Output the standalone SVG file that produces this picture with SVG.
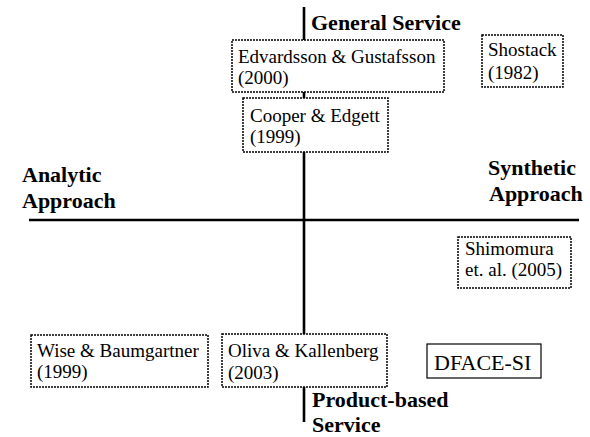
<svg xmlns="http://www.w3.org/2000/svg" width="590" height="437" viewBox="0 0 590 437">
<style>
.bg{fill:#fff}
.axis{stroke:#000;stroke-width:2.6;fill:none}
.box{fill:#fff;stroke:#000;stroke-width:1.5;stroke-dasharray:2 1}
.sbox{fill:#fff;stroke:#000;stroke-width:1.2}
.lbl{font-family:"Liberation Serif","Times New Roman",serif;font-weight:bold;font-size:22px;fill:#000}
.t{font-family:"Liberation Serif","Times New Roman",serif;font-size:19px;fill:#000}
.big{font-family:"Liberation Serif","Times New Roman",serif;font-size:22px;fill:#000}
</style>
<rect class="bg" x="0" y="0" width="590" height="437"/>
<g id="connectors">
<line class="axis" x1="304" y1="7" x2="304" y2="422"/>
<line class="axis" x1="29" y1="220" x2="579" y2="220"/>
</g>
<g id="axis-labels">
<text class="lbl" x="311" y="30">General Service</text>
<text class="lbl" x="22" y="182">Analytic</text>
<text class="lbl" x="22" y="208">Approach</text>
<text class="lbl" x="488" y="175">Synthetic</text>
<text class="lbl" x="489" y="201">Approach</text>
<text class="lbl" x="312" y="407">Product-based</text>
<text class="lbl" x="312" y="432">Service</text>
</g>
<g id="edvardsson">
<rect class="box" x="232" y="40" width="212" height="52"/>
<text class="t" x="238" y="63">Edvardsson &amp; Gustafsson</text>
<text class="t" x="238" y="84">(2000)</text>
</g>
<g id="shostack">
<rect class="box" x="482" y="35" width="81" height="52"/>
<text class="t" x="488" y="56">Shostack</text>
<text class="t" x="488" y="79">(1982)</text>
</g>
<g id="cooper">
<rect class="box" x="243" y="98" width="145" height="54"/>
<text class="t" x="250" y="122">Cooper &amp; Edgett</text>
<text class="t" x="250" y="143">(1999)</text>
</g>
<g id="shimomura">
<rect class="box" x="458" y="237" width="113" height="51"/>
<text class="t" x="465" y="255">Shimomura</text>
<text class="t" x="465" y="276">et. al. (2005)</text>
</g>
<g id="wise">
<rect class="box" x="31" y="335" width="177" height="52"/>
<text class="t" x="37" y="357">Wise &amp; Baumgartner</text>
<text class="t" x="37" y="378">(1999)</text>
</g>
<g id="oliva">
<rect class="box" x="222" y="334" width="165" height="53"/>
<text class="t" x="228" y="357">Oliva &amp; Kallenberg</text>
<text class="t" x="228" y="379">(2003)</text>
</g>
<g id="dface">
<rect class="sbox" x="427" y="344" width="114" height="34"/>
<text class="big" x="434" y="370">DFACE-SI</text>
</g>
</svg>
